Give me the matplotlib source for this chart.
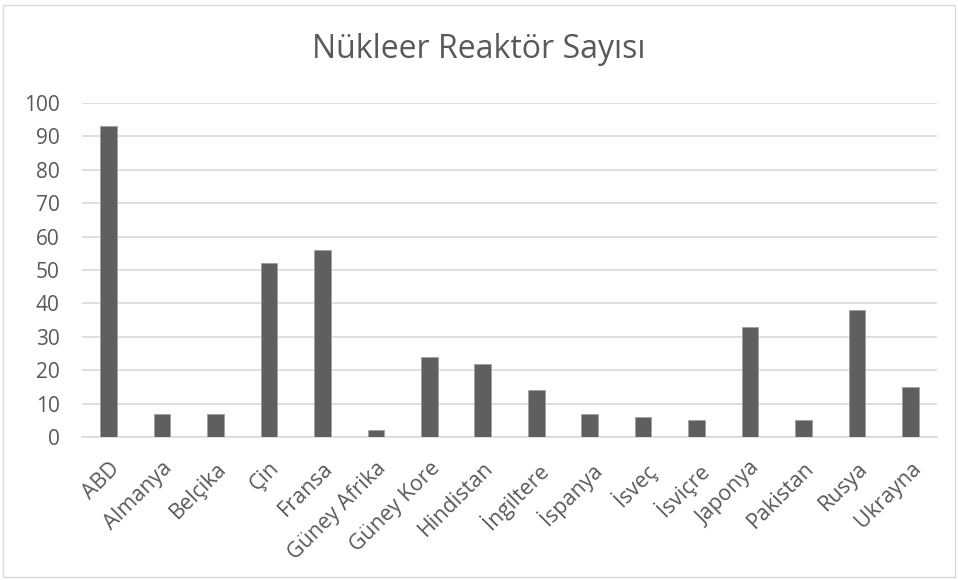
import matplotlib.pyplot as plt
from matplotlib.patches import Rectangle

countries = ['ABD', 'Almanya', 'Belçika', 'Çin', 'Fransa', 'Güney Afrika', 'Güney Kore',
             'Hindistan', 'İngiltere', 'İspanya', 'İsveç', 'İsviçre', 'Japonya',
             'Pakistan', 'Rusya', 'Ukrayna']
reactors = [93, 7, 7, 52, 56, 2, 24, 22, 14, 7, 6, 5, 33, 5, 38, 15]
yticks = [0, 10, 20, 30, 40, 50, 60, 70, 80, 90, 100]

plt.rcParams['font.family'] = ['Open Sans', 'DejaVu Sans']
text_color = '#595959'

fig = plt.figure(figsize=(9.58, 5.8), dpi=100)
ax = fig.add_axes([82 / 958, 1 - 437 / 580, 855 / 958, 334 / 580])

x = range(len(countries))
ax.bar(x, reactors, width=0.31, color='#5f5f5f', edgecolor='#a0a0a0', linewidth=0.6, zorder=3)

ax.set_xlim(-0.5, len(countries) - 0.5)
ax.set_ylim(0, 100)
ax.set_yticks(yticks)
ax.set_yticklabels([str(v) for v in yticks], fontsize=15, color=text_color)
ax.set_xticks(list(x))
ax.set_xticklabels(countries, rotation=45, ha='right', rotation_mode='anchor',
                   fontsize=15.5, color=text_color)
ax.tick_params(axis='both', length=0)
ax.tick_params(axis='y', pad=16)
ax.tick_params(axis='x', pad=15)

ax.grid(axis='y', color='#d9d9d9', linewidth=1.2, zorder=0)
for side in ['top', 'right', 'left']:
    ax.spines[side].set_visible(False)
ax.spines['bottom'].set_color('#d9d9d9')
ax.spines['bottom'].set_linewidth(1.2)

fig.text(0.5, 1 - 50 / 580, 'Nükleer Reaktör Sayısı', ha='center', va='center',
         fontsize=23, color=text_color)

# chart border
fig.patches.append(Rectangle((3 / 958, 3 / 580), 952 / 958, 572 / 580, transform=fig.transFigure,
                             fill=False, edgecolor='#d9d9d9', linewidth=1))

fig.savefig('out.png', dpi=100)
